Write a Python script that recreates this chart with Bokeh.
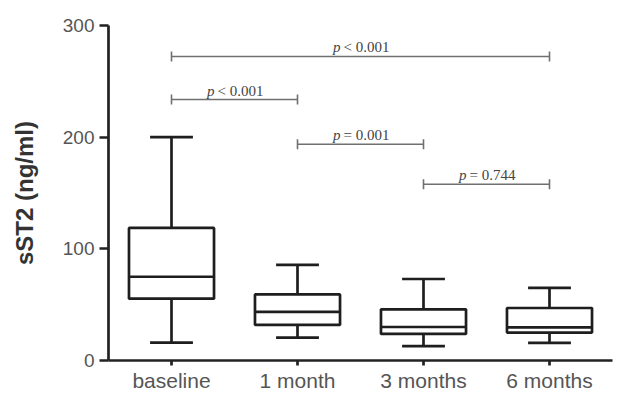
from bokeh.plotting import figure
from bokeh.models import FactorRange, Range1d, ColumnDataSource, FixedTicker
from bokeh.transform import dodge
from bokeh.core.properties import value
from bokeh.embed import file_html
from bokeh.resources import INLINE

# ---- data ----
categories = ["baseline", "1 month", "3 months", "6 months"]
whisker_low = [16, 20.5, 12.8, 15.8]
q1 = [55.4, 31.9, 23.8, 25]
median = [75, 43.5, 30, 29.7]
q3 = [118.7, 59.2, 45.8, 47]
whisker_high = [200, 85.7, 73, 65]

comp_from = ["baseline", "baseline", "1 month", "3 months"]
comp_to = ["6 months", "1 month", "3 months", "6 months"]
comp_y = [272.3, 233.7, 193.7, 157.8]
comp_text = ["< 0.001", "< 0.001", "= 0.001", "= 0.744"]

y_ticks = [0, 100, 200, 300]

# ---- figure ----
p = figure(x_range=FactorRange(factors=categories, range_padding=0),
           y_range=Range1d(0, 300),
           width=616, height=394, output_backend="svg", toolbar_location=None,
           min_border_left=108, min_border_right=4, min_border_top=25, min_border_bottom=33)
p.outline_line_color = None
p.xgrid.grid_line_color = None
p.ygrid.grid_line_color = None
p.background_fill_color = "white"

box_w = 0.675
cap_w = 0.34
src = ColumnDataSource(dict(cat=categories, lo=whisker_low, q1=q1, med=median, q3=q3, hi=whisker_high))
line_col = "#1e1e1e"
lw = 2.7

# whiskers
p.segment(x0="cat", y0="q3", x1="cat", y1="hi", source=src, line_color=line_col, line_width=lw)
p.segment(x0="cat", y0="lo", x1="cat", y1="q1", source=src, line_color=line_col, line_width=lw)
# caps
p.segment(x0=dodge("cat", -cap_w / 2, range=p.x_range), y0="hi",
          x1=dodge("cat", cap_w / 2, range=p.x_range), y1="hi",
          source=src, line_color=line_col, line_width=lw)
p.segment(x0=dodge("cat", -cap_w / 2, range=p.x_range), y0="lo",
          x1=dodge("cat", cap_w / 2, range=p.x_range), y1="lo",
          source=src, line_color=line_col, line_width=lw)
# boxes
p.vbar(x="cat", top="q3", bottom="q1", width=box_w, source=src,
       fill_color="white", line_color=line_col, line_width=lw)
# medians
p.segment(x0=dodge("cat", -box_w / 2, range=p.x_range), y0="med",
          x1=dodge("cat", box_w / 2, range=p.x_range), y1="med",
          source=src, line_color=line_col, line_width=lw)

# significance brackets
idx = {c: i for i, c in enumerate(categories)}
mid = [(idx[a] + idx[b]) / 2 + 0.5 for a, b in zip(comp_from, comp_to)]
bsrc = ColumnDataSource(dict(x0=comp_from, x1=comp_to, y=comp_y, mid=mid, txt=comp_text,
                             p=["p"] * len(comp_y)))
br_col = "#707070"
p.segment(x0="x0", y0="y", x1="x1", y1="y", source=bsrc, line_color=br_col, line_width=1.6)
p.scatter(x="x0", y="y", source=bsrc, marker="dash", angle=1.5708, size=10,
          line_color=br_col, line_width=1.6)
p.scatter(x="x1", y="y", source=bsrc, marker="dash", angle=1.5708, size=10,
          line_color=br_col, line_width=1.6)
p.text(x="mid", y="y", text="p", source=bsrc, text_align="right", text_baseline="bottom",
       x_offset=-20, y_offset=-1, text_font=value("Liberation Serif"), text_font_style="italic",
       text_font_size="15px", text_color="#444444")
p.text(x="mid", y="y", text="txt", source=bsrc, text_align="left", text_baseline="bottom",
       x_offset=-17, y_offset=-1, text_font=value("Liberation Serif"),
       text_font_size="15px", text_color="#444444")

# axes
for ax in (p.xaxis[0], p.yaxis[0]):
    ax.axis_line_color = "#222222"
    ax.axis_line_width = 2.7
    ax.major_tick_line_color = "#222222"
    ax.major_tick_line_width = 2.7
    ax.major_tick_in = 0
    ax.minor_tick_line_color = None
    ax.major_label_text_font = "Liberation Sans"
    ax.major_label_text_color = "#555555"

p.xaxis.major_tick_out = 5
p.xaxis.major_label_standoff = 3
p.xaxis.major_label_text_font_size = "21px"

p.yaxis.ticker = FixedTicker(ticks=y_ticks)
p.yaxis.major_tick_out = 9
p.yaxis.major_label_standoff = 5
p.yaxis.major_label_text_font_size = "19px"
p.yaxis.axis_label = "sST2 (ng/ml)"
p.yaxis.axis_label_text_font = "Liberation Sans"
p.yaxis.axis_label_text_font_style = "bold"
p.yaxis.axis_label_text_font_size = "24px"
p.yaxis.axis_label_text_color = "#333333"
p.yaxis.axis_label_standoff = 22

open("out.html", "w").write(file_html(p, INLINE))
